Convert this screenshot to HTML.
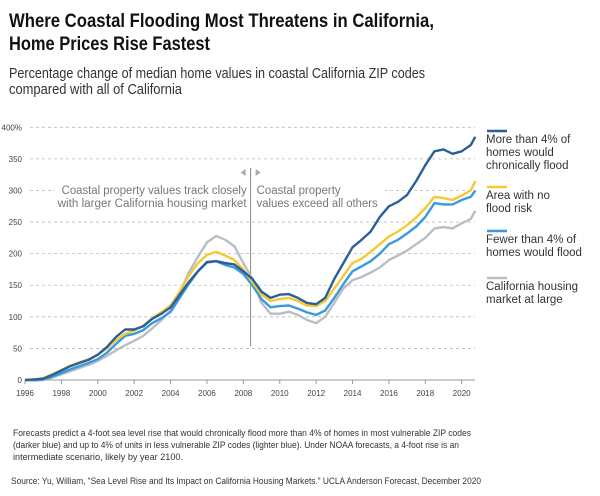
<!DOCTYPE html>
<html><head><meta charset="utf-8"><style>
body{margin:0;background:#fff;}
svg{display:block;font-family:"Liberation Sans",sans-serif;}
</style></head><body>
<svg id="c" width="600" height="496" viewBox="0 0 600 496" xmlns="http://www.w3.org/2000/svg">
<text x="9" y="27" font-size="19" font-weight="bold" fill="#111" textLength="425" lengthAdjust="spacingAndGlyphs">Where Coastal Flooding Most Threatens in California,</text>
<text x="9" y="50" font-size="19" font-weight="bold" fill="#111" textLength="201" lengthAdjust="spacingAndGlyphs">Home Prices Rise Fastest</text>
<text x="9" y="78" font-size="14.5" fill="#333" textLength="416" lengthAdjust="spacingAndGlyphs">Percentage change of median home values in coastal California ZIP codes</text>
<text x="9" y="94" font-size="14.5" fill="#333" textLength="173" lengthAdjust="spacingAndGlyphs">compared with all of California</text>
<g id="grid"></g><g id="axes"></g><g id="annot"></g><g id="lines"></g><g id="legend"></g>
<text x="13" y="436" font-size="9.5" fill="#333" textLength="458" lengthAdjust="spacingAndGlyphs">Forecasts predict a 4-foot sea level rise that would chronically flood more than 4% of homes in most vulnerable ZIP codes</text>
<text x="13" y="448" font-size="9.5" fill="#333" textLength="446" lengthAdjust="spacingAndGlyphs">(darker blue) and up to 4% of units in less vulnerable ZIP codes (lighter blue). Under NOAA forecasts, a 4-foot rise is an</text>
<text x="13" y="460" font-size="9.5" fill="#333" textLength="170" lengthAdjust="spacingAndGlyphs">intermediate scenario, likely by year 2100.</text>
<text x="11" y="484" font-size="9.5" fill="#333" textLength="470" lengthAdjust="spacingAndGlyphs">Source: Yu, William, “Sea Level Rise and Its Impact on California Housing Markets.” UCLA Anderson Forecast, December 2020</text>
</svg>
<script>
const years = [1996,1996.5,1997,1997.5,1998,1998.5,1999,1999.5,2000,2000.5,2001,2001.5,2002,2002.5,2003,2003.5,2004,2004.5,2005,2005.5,2006,2006.5,2007,2007.5,2008,2008.5,2009,2009.5,2010,2010.5,2011,2011.5,2012,2012.5,2013,2013.5,2014,2014.5,2015,2015.5,2016,2016.5,2017,2017.5,2018,2018.5,2019,2019.5,2020,2020.5,2020.75];
const moreThan4 = [0,1,2,8,15,22,27,32,40,52,68,80,80,85,97,105,115,135,155,172,187,188,185,183,172,160,140,130,135,136,130,122,120,130,160,185,210,222,235,258,275,282,293,315,340,362,365,358,362,372,385];
const noRisk = [0,1,3,9,16,23,28,33,40,50,63,73,78,86,98,108,118,140,165,185,198,203,197,190,175,155,135,125,128,130,125,118,117,125,145,165,185,192,203,215,227,235,245,257,272,290,288,285,292,300,315];
const fewerThan4 = [0,0,1,5,11,17,22,27,33,43,57,70,73,79,90,98,108,130,152,172,186,188,182,178,168,150,128,115,117,118,113,107,103,110,130,152,172,180,188,200,215,222,232,243,258,280,278,278,285,290,300];
const california = [0,-1,0,4,9,14,19,24,30,38,47,55,62,70,82,95,110,138,170,195,218,228,222,212,185,160,122,105,105,108,103,95,90,100,122,145,158,163,170,178,190,197,205,215,225,240,242,240,248,255,268];
const yTicks = [0,50,100,150,200,250,300,350,400];
const xTicks = [1996,1998,2000,2002,2004,2006,2008,2010,2012,2014,2016,2018,2020];

const NS="http://www.w3.org/2000/svg";
const X0=25, X1=461.7, Y0=380, Y400=127.3;
const xs=y=>X0+(y-1996)*(X1-X0)/24;
const ys=v=>Y0+(v/400)*(Y400-Y0);
function mk(tag,attrs,parent){const e=document.createElementNS(NS,tag);for(const k in attrs)e.setAttribute(k,attrs[k]);parent.appendChild(e);return e;}
const grid=document.getElementById('grid'),axes=document.getElementById('axes'),lines=document.getElementById('lines'),legend=document.getElementById('legend'),annot=document.getElementById('annot');
yTicks.forEach(t=>{
  const l=mk('line',{x1:t===0?X0:30,x2:475,y1:ys(t),y2:ys(t),stroke:t===0?'#999':'#bbb','stroke-dasharray':t===0?'none':'3,3','stroke-width':t===0?1:0.8},grid);
  
  
  const tx=mk('text',{x:22,y:ys(t)+3,'font-size':8,fill:'#444','text-anchor':'end'},axes);
  tx.textContent=t===400?'400%':String(t);
  
  
});
xTicks.forEach(t=>{
  const l=mk('line',{x1:xs(t),x2:xs(t),y1:Y0,y2:Y0+4,stroke:'#999'},axes);
  
  
  const tx=mk('text',{x:xs(t),y:Y0+16,'font-size':8,fill:'#444','text-anchor':'middle'},axes);
  tx.textContent=String(t);
  
  
});
const vx=xs(2008.4);
const bg=mk('rect',{x:55,y:180,width:330,height:32,fill:'#fff'},annot);


const vl=mk('line',{x1:vx,x2:vx,y1:168,y2:346,stroke:'#888','stroke-width':1},annot);


const a1=mk('polygon',{points:`${vx-5},169 ${vx-10},172.5 ${vx-5},176`,fill:'#aaa'},annot);


const a2=mk('polygon',{points:`${vx+5},169 ${vx+10},172.5 ${vx+5},176`,fill:'#aaa'},annot);


[["Coastal property values track closely",vx-4,194,'end','left-annotation-line1',185],["with larger California housing market",vx-4,207,'end','left-annotation-line2',189],["Coastal property",vx+6,194,'start','right-annotation-line1',84],["values exceed all others",vx+6,207,'start','right-annotation-line2',121]].forEach(d=>{
  const t=mk('text',{x:d[1],y:d[2],'font-size':11.5,fill:'#777','text-anchor':d[3],textLength:d[5],lengthAdjust:'spacingAndGlyphs'},annot);
  t.textContent=d[0];
  
  
});
const series=[[california,'#b9bec6','line-california'],[fewerThan4,'#3a9ad9','line-fewer-than-4'],[noRisk,'#f5c934','line-no-flood-risk'],[moreThan4,'#2a5f97','line-more-than-4']];
series.forEach(s=>{
  const d=s[0].map((v,i)=>(i?'L':'M')+xs(years[i]).toFixed(1)+','+ys(v).toFixed(1)).join('');
  const p=mk('path',{d:d,fill:'none',stroke:s[1],'stroke-width':2.4,'stroke-linejoin':'round'},lines);
  
  
});
const leg=[['#2a5f97',['More than 4% of','homes would','chronically flood'],131,'legend-more-than-4'],['#f5c934',['Area with no','flood risk'],187,'legend-no-flood-risk'],['#3a9ad9',['Fewer than 4% of','homes would flood'],231,'legend-fewer-than-4'],['#b9bec6',['California housing','market at large'],278,'legend-california']];
leg.forEach(l=>{
  const g=mk('g',{},legend);
  
  
  mk('line',{x1:487,x2:507,y1:l[2],y2:l[2],stroke:l[0],'stroke-width':2.5},g);
  l[1].forEach((s,i)=>{const t=mk('text',{x:486,y:l[2]+12+i*13,'font-size':11.5,fill:'#333'},g);t.textContent=s;});
});
</script>
</body></html>
